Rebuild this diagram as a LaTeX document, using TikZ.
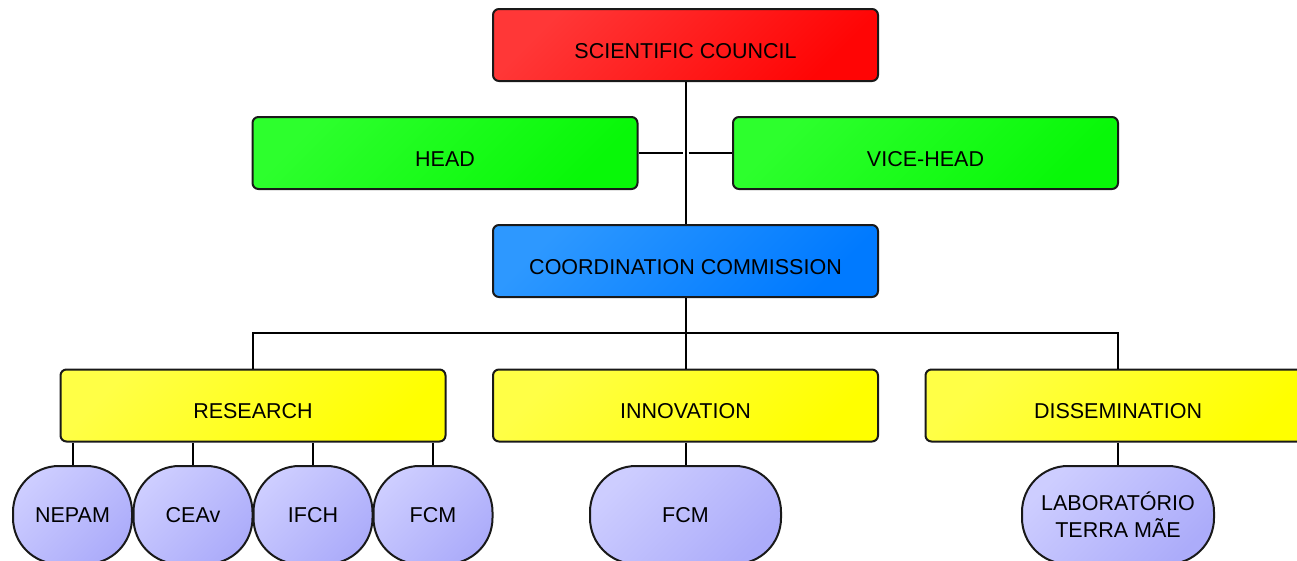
\documentclass[tikz,border=0pt]{standalone}
\usepackage{fontspec}
\setmainfont{Liberation Sans}
\begin{document}
\begin{tikzpicture}[x=1pt,y=-1pt,
  box/.style={draw=black!90, line width=2pt, rounded corners=6pt,
    minimum width=385pt, minimum height=72pt, inner sep=0pt,
    text height=26.4pt, text depth=0pt,
    font=\fontsize{21.5}{26}\selectfont},
  redbox/.style={box, top color={rgb,255:red,255;green,55;blue,55}, bottom color={rgb,255:red,255;green,5;blue,5}, shading angle=45},
  greenbox/.style={box, top color={rgb,255:red,45;green,255;blue,45}, bottom color={rgb,255:red,8;green,248;blue,8}, shading angle=45},
  bluebox/.style={box, top color={rgb,255:red,45;green,152;blue,255}, bottom color={rgb,255:red,0;green,122;blue,255}, shading angle=45},
  yellowbox/.style={box, top color={rgb,255:red,255;green,255;blue,70}, bottom color={rgb,255:red,255;green,255;blue,0}, shading angle=45},
  blob/.style={draw=black!90, line width=2pt, rounded corners=46pt,
    minimum height=98pt, inner sep=0pt, align=center,
    font=\fontsize{21.5}{27}\selectfont,
    top color={rgb,255:red,205;green,205;blue,255}, bottom color={rgb,255:red,172;green,172;blue,250}, shading angle=45},
  link/.style={draw=black, line width=2pt}]
  \clip (0,0) rectangle (1297,560);

  % top of the hierarchy
  \node[redbox] (sc) at (685.5,45) {SCIENTIFIC COUNCIL};
  \node[greenbox] (head) at (445,153) {HEAD};
  \node[greenbox] (vice) at (925.5,153) {VICE-HEAD};
  \node[bluebox] (cc) at (685.5,261) {COORDINATION COMMISSION};

  % areas
  \node[yellowbox] (res) at (253,405.5) {RESEARCH};
  \node[yellowbox] (inn) at (685.5,405.5) {INNOVATION};
  \node[yellowbox] (dis) at (1118,405.5) {DISSEMINATION};

  % units
  \node[blob, minimum width=119pt] (nepam) at (72.5,515) {NEPAM};
  \node[blob, minimum width=119pt] (ceav) at (193,515) {CEAv};
  \node[blob, minimum width=119pt] (ifch) at (313,515) {IFCH};
  \node[blob, minimum width=119pt] (fcma) at (433,515) {FCM};
  \node[blob, minimum width=191pt] (fcmb) at (685.5,515) {FCM};
  \node[blob, minimum width=192pt] (lab) at (1118,515) {LABORAT\'ORIO\\TERRA M\~AE};

  % connectors
  \coordinate (hopL) at (682.5,153);
  \coordinate (hopR) at (688.5,153);
  \coordinate (bus) at (685.5,333);
  \path[link] (sc.south) -- (cc.north);
  \path[link] (head.east) -- (hopL);
  \path[link] (hopR) -- (vice.west);
  \path[link] (cc.south) -- (bus) -| (res.north);
  \path[link] (bus) -| (dis.north);
  \path[link] (bus) -- (inn.north);
  \foreach \u in {nepam,ceav,ifch,fcma}
    \path[link] (\u.north) -- (\u.north |- res.south);
  \path[link] (inn.south) -- (fcmb.north);
  \path[link] (dis.south) -- (lab.north);
\end{tikzpicture}
\end{document}
